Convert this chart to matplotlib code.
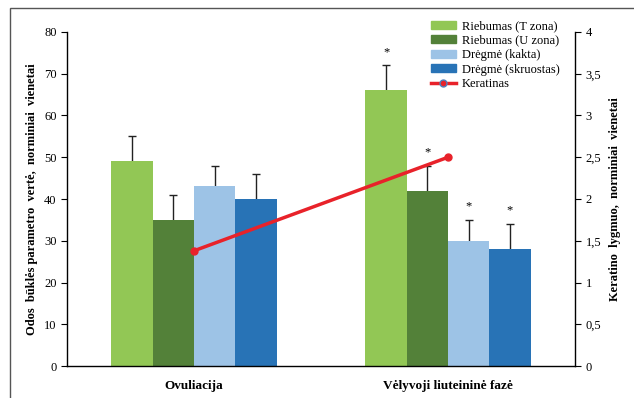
import numpy as np
import matplotlib.pyplot as plt
from matplotlib.patches import Rectangle, Patch
from matplotlib.lines import Line2D
from matplotlib.ticker import FuncFormatter

plt.rcParams['font.family'] = ['Liberation Serif', 'DejaVu Serif']

# Duomenys
phases = ["Ovuliacija", "Vėlyvoji liuteininė fazė"]
series = ["Riebumas (T zona)", "Riebumas (U zona)", "Drėgmė (kakta)", "Drėgmė (skruostas)"]
values = [[49, 66], [35, 42], [43, 30], [40, 28]]
errors = [[6, 6], [6, 6], [5, 5], [6, 6]]
stars = [[False, True], [False, True], [False, True], [False, True]]
keratin = [1.38, 2.5]

colors = ["#92C755", "#538139", "#9DC3E6", "#2873B6"]

fig = plt.figure(figsize=(6.34, 3.98), dpi=100)
ax = fig.add_axes([0.1057, 0.0804, 0.8013, 0.8392])

# rėmelis aplink visą grafiką
fig.patches.append(Rectangle((10 / 634, -0.1), 1.2, (398 - 8) / 398 + 0.1,
                             transform=fig.transFigure, fill=False,
                             ec="#555555", lw=1.0))

x = np.arange(len(phases))
w = 0.1625
for i, name in enumerate(series):
    pos = x + (i - 1.5) * w
    ax.bar(pos, values[i], w, color=colors[i], label=name, zorder=2)
    # apatinė paklaidos dalis pasislepia už stulpelio
    ax.errorbar(pos, values[i], yerr=errors[i],
                fmt="none", ecolor="#222222", elinewidth=1.0, capsize=3,
                capthick=1.0, zorder=1)
    for j in range(len(phases)):
        if stars[i][j]:
            ax.text(pos[j], values[i][j] + errors[i][j] + 3.2, "*",
                    ha="center", va="center", fontsize=9)

ax.set_xlim(-0.5, 1.5)
ax.set_ylim(0, 80)
ax.set_yticks(range(0, 81, 10))
ax.set_xticks(x)
ax.set_xticklabels(phases, fontweight="bold", fontsize=9.5)
ax.tick_params(axis="x", length=0, pad=10)
ax.tick_params(axis="y", labelsize=9, length=4, width=0.8, direction="out")
ax.spines["top"].set_visible(False)
ax.spines["right"].set_visible(False)
ax.spines["bottom"].set_linewidth(1.0)
ax.spines["left"].set_linewidth(1.0)
ax.set_ylabel("Odos  būklės parametro  vertė,  norminiai  vienetai",
              fontweight="bold", fontsize=9, labelpad=4)

# antroji ašis keratinui
ax2 = ax.twinx()
ax2.plot(x, keratin, color="#E8222A", lw=2.5, marker="o", ms=5,
         mfc="#E8222A", mec="#E8222A", zorder=4)
ax2.set_ylim(0, 4)
ax2.set_yticks(np.arange(0, 4.01, 0.5))
ax2.yaxis.set_major_formatter(FuncFormatter(
    lambda v, p: ("%g" % v).replace(".", ",")))
ax2.tick_params(axis="y", labelsize=9, length=4, width=0.8, direction="out")
ax2.spines["top"].set_visible(False)
ax2.spines["left"].set_visible(False)
ax2.spines["bottom"].set_visible(False)
ax2.spines["right"].set_linewidth(1.0)
ax2.set_ylabel("Keratino  lygmuo,  norminiai  vienetai",
               fontweight="bold", fontsize=9, labelpad=6)

handles = [Patch(color=c, label=s) for c, s in zip(colors, series)]
handles.append(Line2D([0], [0], color="#E8222A", lw=2.5, marker="o", ms=5,
                      mfc="#E8222A", mec="#4F81BD", label="Keratinas"))
ax2.legend(handles=handles, loc="upper right", bbox_to_anchor=(0.985, 1.058),
           frameon=False, fontsize=9, handlelength=2.0, handleheight=0.6,
           labelspacing=0.2, borderaxespad=0.2, handletextpad=0.5)

fig.savefig("out.png", dpi=100)
